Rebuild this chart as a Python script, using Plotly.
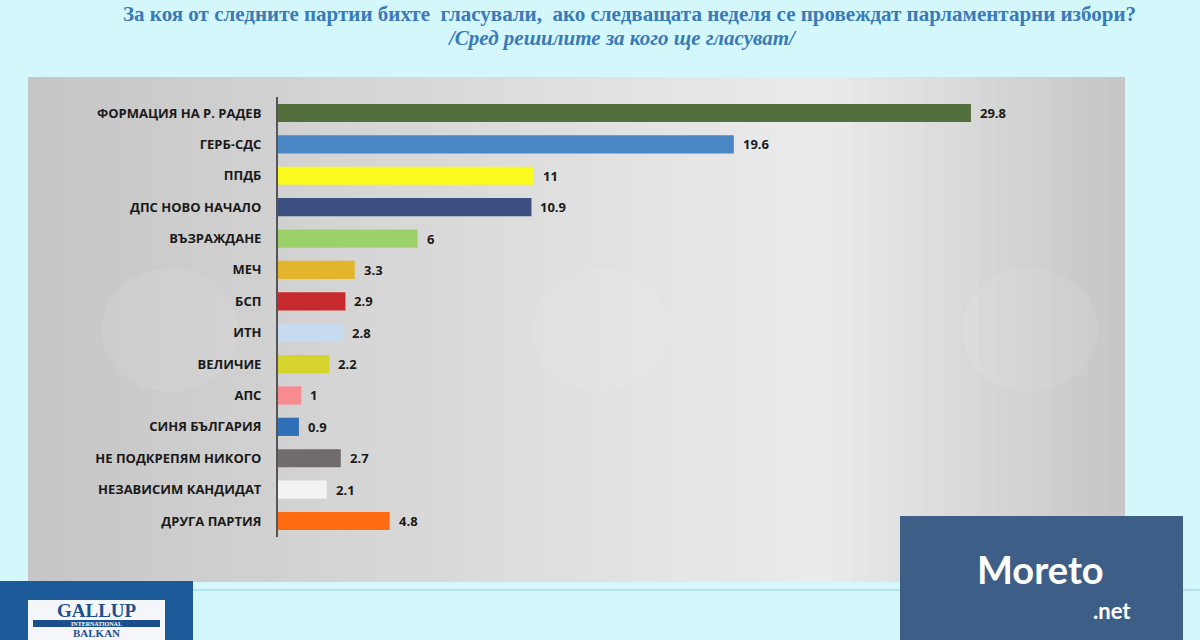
import plotly.graph_objects as go

categories = ["ФОРМАЦИЯ НА Р. РАДЕВ", "ГЕРБ-СДС", "ППДБ", "ДПС НОВО НАЧАЛО", "ВЪЗРАЖДАНЕ",
              "МЕЧ", "БСП", "ИТН", "ВЕЛИЧИЕ", "АПС", "СИНЯ БЪЛГАРИЯ",
              "НЕ ПОДКРЕПЯМ НИКОГО", "НЕЗАВИСИМ КАНДИДАТ", "ДРУГА ПАРТИЯ"]
values = [29.8, 19.6, 11, 10.9, 6, 3.3, 2.9, 2.8, 2.2, 1, 0.9, 2.7, 2.1, 4.8]
value_labels = ["29.8", "19.6", "11", "10.9", "6", "3.3", "2.9", "2.8", "2.2", "1", "0.9", "2.7", "2.1", "4.8"]
colors = ["#526f3d", "#4a86c4", "#fafa1e", "#3c5082", "#9cd16a", "#e2b52c", "#c62a2f",
          "#c6dbf0", "#d6d32f", "#f78c90", "#2f6fb6", "#706c6c", "#f3f3f3", "#ff6b12"]

W, H = 1200, 640
fig = go.Figure()

fig.add_trace(go.Bar(
    y=categories, x=values, orientation="h",
    marker=dict(color=colors, line=dict(width=0)),
    hoverinfo="skip",
))

shapes = []
# gray gradient panel (vertical strips)
x0p, x1p, y0p, y1p = 28, 1125, 77, 582
n = 60
def shade(t):
    if t < 0.72:
        v = 198 + (236 - 198) * (t / 0.72)
    else:
        v = 236 - (236 - 198) * ((t - 0.72) / 0.28)
    return int(v)
for i in range(n):
    xa = x0p + (x1p - x0p) * i / n
    xb = x0p + (x1p - x0p) * (i + 1) / n + 1
    v = shade((i + 0.5) / n)
    shapes.append(dict(type="rect", xref="paper", yref="paper",
                       x0=xa / W, x1=min(xb, x1p) / W, y0=1 - y1p / H, y1=1 - y0p / H,
                       fillcolor="rgb(%d,%d,%d)" % (v, v, v), line=dict(width=0), layer="below"))
# faint watermark circles
for cx in (170, 600, 1030):
    shapes.append(dict(type="circle", xref="paper", yref="paper",
                       x0=(cx - 68) / W, x1=(cx + 68) / W, y0=1 - (330 + 62) / H, y1=1 - (330 - 62) / H,
                       fillcolor="rgba(255,255,255,0.08)", line=dict(width=0), layer="below"))
# separator line
shapes.append(dict(type="line", xref="paper", yref="paper", x0=0, x1=1, y0=1 - 590 / H, y1=1 - 590 / H,
                   line=dict(color="#a9dbe6", width=1.5)))
# Gallup box
shapes.append(dict(type="rect", xref="paper", yref="paper", x0=0, x1=193 / W, y0=0, y1=1 - 581 / H,
                   fillcolor="#1c5a9a", line=dict(width=0)))
shapes.append(dict(type="rect", xref="paper", yref="paper", x0=28 / W, x1=165 / W, y0=0, y1=1 - 600 / H,
                   fillcolor="#f4f6fa", line=dict(width=0)))
shapes.append(dict(type="rect", xref="paper", yref="paper", x0=33 / W, x1=160 / W, y0=1 - 627 / H, y1=1 - 620 / H,
                   fillcolor="#1c4f8c", line=dict(width=0)))
# Moreto box
shapes.append(dict(type="rect", xref="paper", yref="paper", x0=900 / W, x1=1183 / W, y0=0, y1=1 - 516 / H,
                   fillcolor="#3d5f87", line=dict(width=0)))

ppu = (971 - 278) / 29.8
xmax = 35
x_dom = [278 / W, (278 + xmax * ppu) / W]
step = (521 - 113) / 13
ytop = 113 - step / 2
ybot = 521 + step / 2

annotations = [
    dict(text="<b>За коя от следните партии бихте  гласували,  ако следващата неделя се провеждат парламентарни избори?</b>",
         x=629 / W, y=1 - 14 / H, xref="paper", yref="paper", showarrow=False,
         font=dict(family="Liberation Serif, Times New Roman", size=21, color="#3a7ab8"), xanchor="center", yanchor="middle"),
    dict(text="<b><i>/Сред решилите за кого ще гласуват/</i></b>",
         x=622 / W, y=1 - 38 / H, xref="paper", yref="paper", showarrow=False,
         font=dict(family="Liberation Serif, Times New Roman", size=21, color="#3a7ab8"), xanchor="center", yanchor="middle"),
    dict(text="<b>GALLUP</b>", x=97 / W, y=1 - 610 / H, xref="paper", yref="paper", showarrow=False,
         font=dict(family="Liberation Serif", size=19, color="#1c4f8c"), xanchor="center", yanchor="middle"),
    dict(text="<b>INTERNATIONAL</b>", x=97 / W, y=1 - 623.5 / H, xref="paper", yref="paper", showarrow=False,
         font=dict(family="Liberation Serif", size=6, color="white"), xanchor="center", yanchor="middle"),
    dict(text="<b>BALKAN</b>", x=97 / W, y=1 - 633 / H, xref="paper", yref="paper", showarrow=False,
         font=dict(family="Liberation Serif", size=11, color="#1c4f8c"), xanchor="center", yanchor="middle"),
    dict(text="<b>Moreto</b>", x=1040 / W, y=1 - 569 / H, xref="paper", yref="paper", showarrow=False,
         font=dict(family="Lato, Arial", size=38, color="white"), xanchor="center", yanchor="middle"),
    dict(text="<b>.net</b>", x=1112 / W, y=1 - 610 / H, xref="paper", yref="paper", showarrow=False,
         font=dict(family="Lato, Arial", size=22, color="white"), xanchor="center", yanchor="middle"),
]
for cat, v, lab in zip(categories, values, value_labels):
    annotations.append(dict(text="<b>%s</b>" % lab, x=v, y=cat, xref="x", yref="y", showarrow=False,
                            xanchor="left", yanchor="middle", xshift=7,
                            font=dict(family="Open Sans, Arial", size=13, color="#1a1a1a")))

fig.update_layout(
    width=W, height=H, margin=dict(l=0, r=0, t=0, b=0),
    paper_bgcolor="#d3f7fb", plot_bgcolor="rgba(0,0,0,0)",
    showlegend=False, bargap=0.42,
    shapes=shapes, annotations=annotations,
    xaxis=dict(domain=x_dom, range=[0, xmax], visible=False, fixedrange=True),
    yaxis=dict(domain=[1 - ybot / H, 1 - ytop / H], autorange="reversed",
               showline=True, linecolor="#555555", linewidth=2, ticks="", showgrid=False,
               tickfont=dict(family="Open Sans, Arial", size=13, color="#1a1a1a"),
               ticklabelstandoff=12,
               tickmode="array", tickvals=categories, ticktext=["<b>%s</b>" % c for c in categories]),
    font=dict(family="Open Sans, Arial"),
)

fig.write_html("out.html")
